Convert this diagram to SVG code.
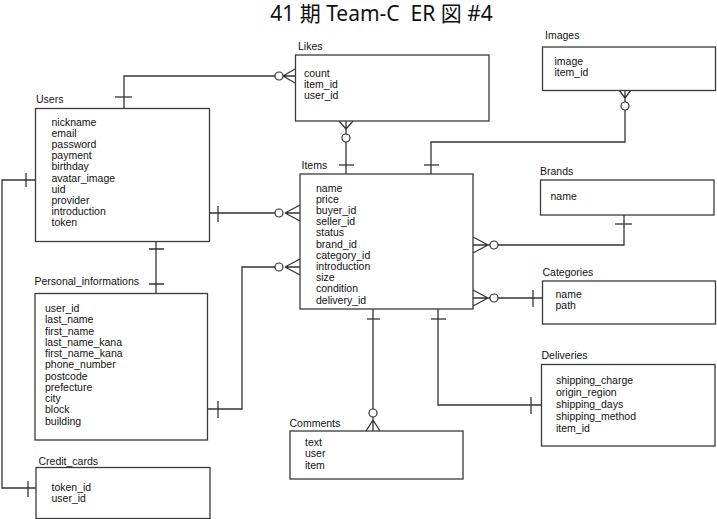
<svg xmlns="http://www.w3.org/2000/svg" width="717" height="519" viewBox="0 0 717 519">
<style>
.box{fill:#fff;stroke:#3a3a3a;stroke-width:1.3}
.t{font-family:"Liberation Sans",Arial,sans-serif;font-size:10.5px;fill:#111}
.title{font-family:"Noto Sans","Noto Sans CJK JP",sans-serif;font-size:21px;fill:#111;white-space:pre}
.c{fill:none;stroke:#333;stroke-width:1.3}
.o{fill:#fff;stroke:#333;stroke-width:1.2}
</style>
<rect width="717" height="519" fill="#fff"/>
<text class="title" x="381.5" y="20.5" text-anchor="middle" xml:space="preserve">41 期 Team-C  ER 図 #4</text>

<g id="connectors">
  <!-- Users - Likes -->
  <path class="c" d="M124,108 V76 H275"/>
  <path class="c" d="M115,97 H132"/>
  <path class="c" d="M283,76 H295 M283,76 L295,69 M283,76 L295,83"/>
  <circle class="o" cx="279" cy="76" r="4"/>
  <!-- Likes - Items -->
  <path class="c" d="M346,142 V174"/>
  <path class="c" d="M346,121 V134 M346,129 L339,121 M346,129 L353,121"/>
  <circle class="o" cx="346" cy="138" r="4"/>
  <path class="c" d="M339,165 H354"/>
  <!-- Images - Items -->
  <path class="c" d="M625,110 V142 H431 V174"/>
  <path class="c" d="M625,90 V102 M625,98 L619,90 M625,98 L631,90"/>
  <circle class="o" cx="625" cy="106" r="4"/>
  <path class="c" d="M424,165 H439"/>
  <!-- Users - Items -->
  <path class="c" d="M209,213 H275"/>
  <path class="c" d="M218,206 V222"/>
  <path class="c" d="M285,213 H300 M285,213 L300,205 M285,213 L300,221"/>
  <circle class="o" cx="279" cy="213" r="4"/>
  <!-- Personal_informations - Items -->
  <path class="c" d="M208,409 H242 V267 H275"/>
  <path class="c" d="M218,401 V418"/>
  <path class="c" d="M285,267 H300 M285,267 L300,259 M285,267 L300,275"/>
  <circle class="o" cx="279" cy="267" r="4"/>
  <!-- Users - Personal_informations -->
  <path class="c" d="M156,241 V293"/>
  <path class="c" d="M149,249 H164 M149,284 H164"/>
  <!-- Users - Credit_cards -->
  <path class="c" d="M35,180 H2 V488 H36"/>
  <path class="c" d="M26,173 V187 M28,481 V497"/>
  <!-- Items - Brands -->
  <path class="c" d="M498,245 H624 V215"/>
  <path class="c" d="M473,245 H490 M488,245 L473,237 M488,245 L473,253"/>
  <circle class="o" cx="494" cy="245" r="4"/>
  <path class="c" d="M615,224 H632"/>
  <!-- Items - Categories -->
  <path class="c" d="M498,298 H542"/>
  <path class="c" d="M473,298 H490 M488,298 L473,290 M488,298 L473,306"/>
  <circle class="o" cx="494" cy="298" r="4"/>
  <path class="c" d="M533,290 V307"/>
  <!-- Items - Comments -->
  <path class="c" d="M373,309 V409"/>
  <path class="c" d="M367,319 H380"/>
  <path class="c" d="M373,417 V431 M373,420 L366,431 M373,420 L380,431"/>
  <circle class="o" cx="373" cy="413" r="4"/>
  <!-- Items - Deliveries -->
  <path class="c" d="M438,309 V405 H541"/>
  <path class="c" d="M431,319 H446"/>
  <path class="c" d="M531,397 V414"/>
</g>

<g id="likes">
  <text class="t" x="298" y="50">Likes</text>
  <rect class="box" x="295.5" y="55" width="193.5" height="66"/>
  <text class="t" x="304" y="77">count</text>
  <text class="t" x="304" y="88.2">item_id</text>
  <text class="t" x="304" y="99.4">user_id</text>
</g>

<g id="users">
  <text class="t" x="36" y="102.5">Users</text>
  <rect class="box" x="35.5" y="108.5" width="174" height="133"/>
  <text class="t" x="51.5" y="125.5">nickname</text>
  <text class="t" x="51.5" y="136.7">email</text>
  <text class="t" x="51.5" y="147.9">password</text>
  <text class="t" x="51.5" y="159.1">payment</text>
  <text class="t" x="51.5" y="170.3">birthday</text>
  <text class="t" x="51.5" y="181.5">avatar_image</text>
  <text class="t" x="51.5" y="192.7">uid</text>
  <text class="t" x="51.5" y="203.9">provider</text>
  <text class="t" x="51.5" y="215.1">introduction</text>
  <text class="t" x="51.5" y="226.3">token</text>
</g>

<g id="items">
  <text class="t" x="301.5" y="169">Items</text>
  <rect class="box" x="300" y="174" width="173" height="135"/>
  <text class="t" x="316" y="191.5">name</text>
  <text class="t" x="316" y="202.7">price</text>
  <text class="t" x="316" y="213.9">buyer_id</text>
  <text class="t" x="316" y="225.1">seller_id</text>
  <text class="t" x="316" y="236.3">status</text>
  <text class="t" x="316" y="247.5">brand_id</text>
  <text class="t" x="316" y="258.7">category_id</text>
  <text class="t" x="316" y="269.9">introduction</text>
  <text class="t" x="316" y="281.1">size</text>
  <text class="t" x="316" y="292.3">condition</text>
  <text class="t" x="316" y="303.5">delivery_id</text>
</g>

<g id="images">
  <text class="t" x="545" y="39">Images</text>
  <rect class="box" x="542.5" y="47" width="173" height="43.5"/>
  <text class="t" x="554.5" y="64.5">image</text>
  <text class="t" x="554.5" y="75.8">item_id</text>
</g>

<g id="brands">
  <text class="t" x="540" y="175">Brands</text>
  <rect class="box" x="540.5" y="180" width="173.5" height="35"/>
  <text class="t" x="550.5" y="199.5">name</text>
</g>

<g id="categories">
  <text class="t" x="542.5" y="276">Categories</text>
  <rect class="box" x="542.5" y="281" width="173" height="43"/>
  <text class="t" x="555.5" y="298">name</text>
  <text class="t" x="555.5" y="309.2">path</text>
</g>

<g id="personal_informations">
  <text class="t" x="34.5" y="284.5">Personal_informations</text>
  <rect class="box" x="35" y="293.5" width="172.5" height="146.5"/>
  <text class="t" x="45" y="312.2">user_id</text>
  <text class="t" x="45" y="323.4">last_name</text>
  <text class="t" x="45" y="334.7">first_name</text>
  <text class="t" x="45" y="345.9">last_name_kana</text>
  <text class="t" x="45" y="357.2">first_name_kana</text>
  <text class="t" x="45" y="368.4">phone_number</text>
  <text class="t" x="45" y="379.7">postcode</text>
  <text class="t" x="45" y="390.9">prefecture</text>
  <text class="t" x="45" y="402.2">city</text>
  <text class="t" x="45" y="413.4">block</text>
  <text class="t" x="45" y="424.6">building</text>
</g>

<g id="deliveries">
  <text class="t" x="541.5" y="359">Deliveries</text>
  <rect class="box" x="541.5" y="364.5" width="173.5" height="81.5"/>
  <text class="t" x="556" y="384.2">shipping_charge</text>
  <text class="t" x="556" y="396.1">origin_region</text>
  <text class="t" x="556" y="408">shipping_days</text>
  <text class="t" x="556" y="419.9">shipping_method</text>
  <text class="t" x="556" y="431.8">item_id</text>
</g>

<g id="comments">
  <text class="t" x="289.5" y="427">Comments</text>
  <rect class="box" x="290" y="431" width="173" height="48"/>
  <text class="t" x="305" y="446">text</text>
  <text class="t" x="305" y="457.3">user</text>
  <text class="t" x="305" y="468.6">item</text>
</g>

<g id="credit_cards">
  <text class="t" x="38.5" y="465">Credit_cards</text>
  <rect class="box" x="36" y="467.5" width="174" height="51"/>
  <text class="t" x="51.5" y="490.5">token_id</text>
  <text class="t" x="51.5" y="501.7">user_id</text>
</g>
</svg>
